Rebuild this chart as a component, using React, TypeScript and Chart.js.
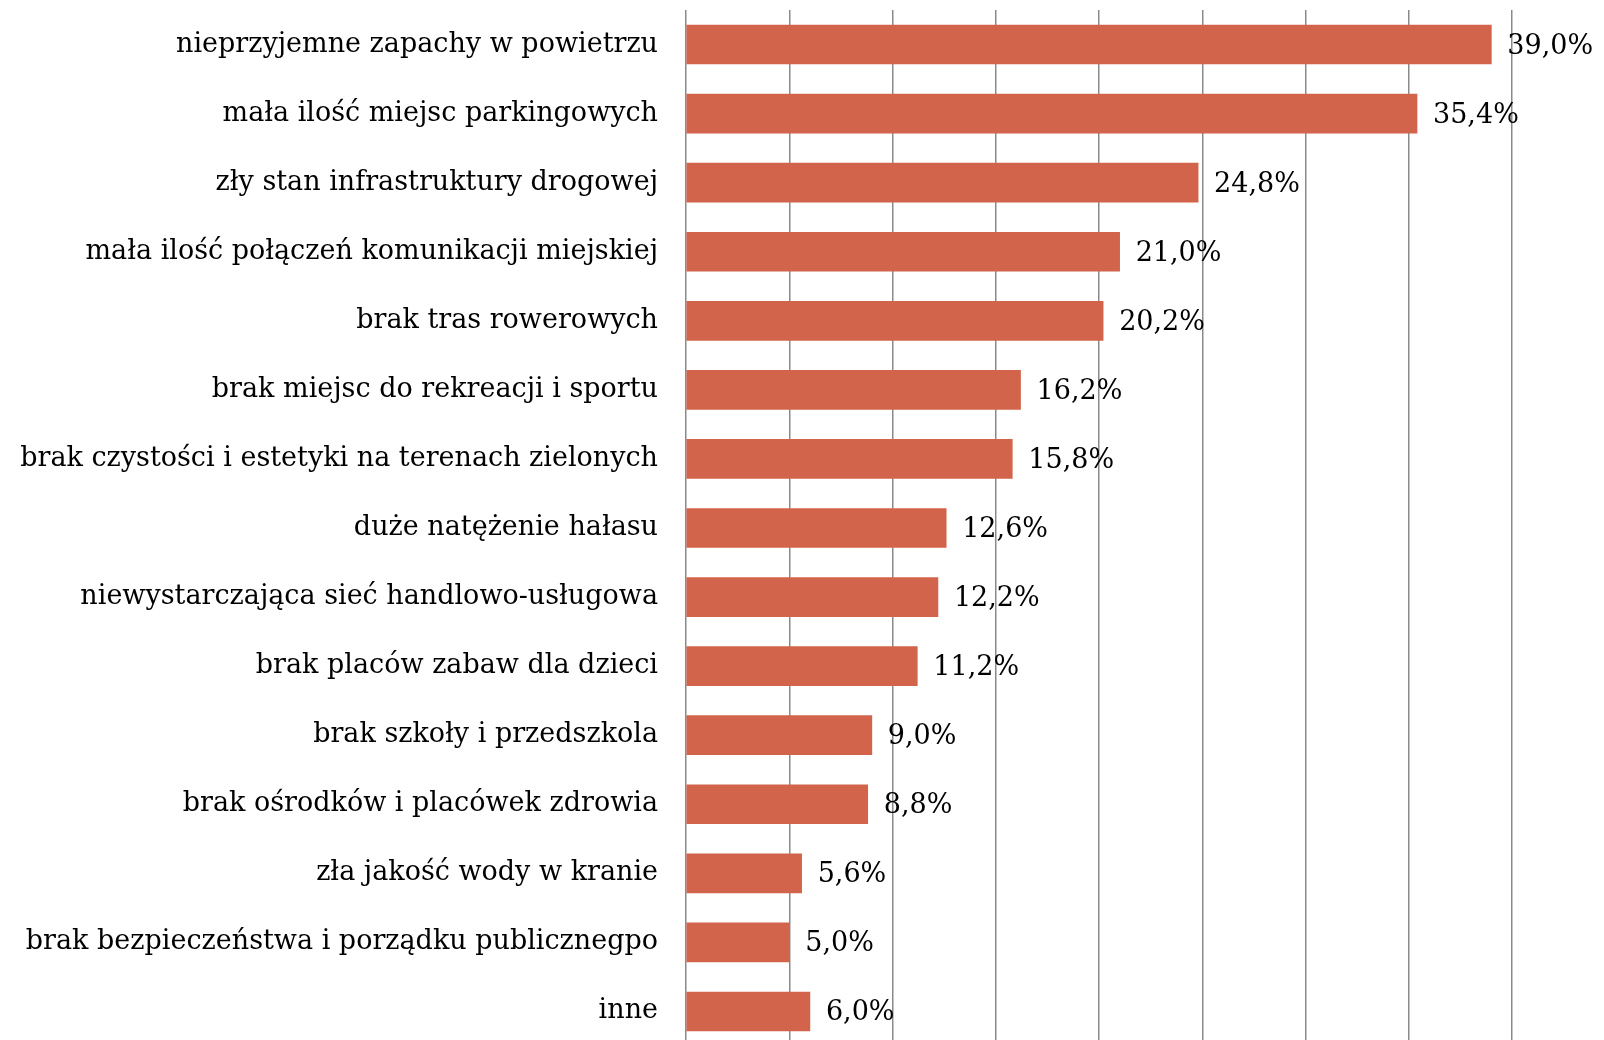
import React, { useEffect, useRef } from "react";
import { Chart, registerables } from "chart.js";

Chart.register(...registerables);

const categories: string[] = [
  "nieprzyjemne zapachy w powietrzu",
  "mała ilość miejsc parkingowych",
  "zły stan infrastruktury drogowej",
  "mała ilość połączeń komunikacji miejskiej",
  "brak tras rowerowych",
  "brak miejsc do rekreacji i sportu",
  "brak czystości i estetyki na terenach zielonych",
  "duże natężenie hałasu",
  "niewystarczająca sieć handlowo-usługowa",
  "brak placów zabaw dla dzieci",
  "brak szkoły i przedszkola",
  "brak ośrodków i placówek zdrowia",
  "zła jakość wody w kranie",
  "brak bezpieczeństwa i porządku publicznegpo",
  "inne",
];

const values: number[] = [39.0, 35.4, 24.8, 21.0, 20.2, 16.2, 15.8, 12.6, 12.2, 11.2, 9.0, 8.8, 5.6, 5.0, 6.0];

const FONT = "'DejaVu Serif', serif";
const FONT_SIZE = 27;

const valueLabels = {
  id: "valueLabels",
  afterDatasetsDraw(chart: any) {
    const ctx = chart.ctx;
    const meta = chart.getDatasetMeta(0);
    ctx.save();
    ctx.font = `${FONT_SIZE}px ${FONT}`;
    ctx.fillStyle = "#000";
    ctx.textAlign = "left";
    ctx.textBaseline = "middle";
    meta.data.forEach((el: any, i: number) => {
      const v = values[i];
      const txt = v.toFixed(1).replace(".", ",") + "%";
      ctx.fillText(txt, el.x + 16, el.y + 2);
    });
    ctx.restore();
  },
};

export default function App() {
  const ref = useRef<HTMLCanvasElement>(null);
  useEffect(() => {
    if (!ref.current) return;
    const chart = new Chart(ref.current, {
      type: "bar",
      data: {
        labels: categories,
        datasets: [
          {
            data: values,
            backgroundColor: "#D2644B",
            borderWidth: 0,
            barThickness: 39,
          },
        ],
      },
      options: {
        indexAxis: "y",
        animation: false,
        responsive: false,
        maintainAspectRatio: false,
        layout: { padding: { top: 10, right: 92, bottom: 0, left: 0 } },
        plugins: { legend: { display: false }, tooltip: { enabled: false } },
        scales: {
          x: {
            min: 0,
            max: 40,
            ticks: { display: false, stepSize: 5 },
            grid: { color: "#8a8a8a", lineWidth: 1.5, drawTicks: false },
            border: { display: false },
            afterFit: (scale: any) => {
              scale.height = 0;
              scale.paddingLeft = 0;
              scale.paddingRight = 0;
            },
          },
          y: {
            grid: { display: false, drawTicks: false },
            border: { display: false },
            ticks: {
              color: "#000",
              font: { family: FONT, size: FONT_SIZE },
              padding: 28,
              autoSkip: false,
            },
            afterFit: (scale: any) => {
              scale.width = 686;
              scale.paddingTop = 0;
              scale.paddingBottom = 0;
            },
          },
        },
      },
      plugins: [valueLabels],
    });
    return () => chart.destroy();
  }, []);
  return (
    <div style={{ position: "fixed", top: 0, left: 0, width: 1604, height: 1040, overflow: "hidden", background: "#fff" }}>
      <canvas ref={ref} width={1604} height={1046} style={{ display: "block" }} />
    </div>
  );
}
